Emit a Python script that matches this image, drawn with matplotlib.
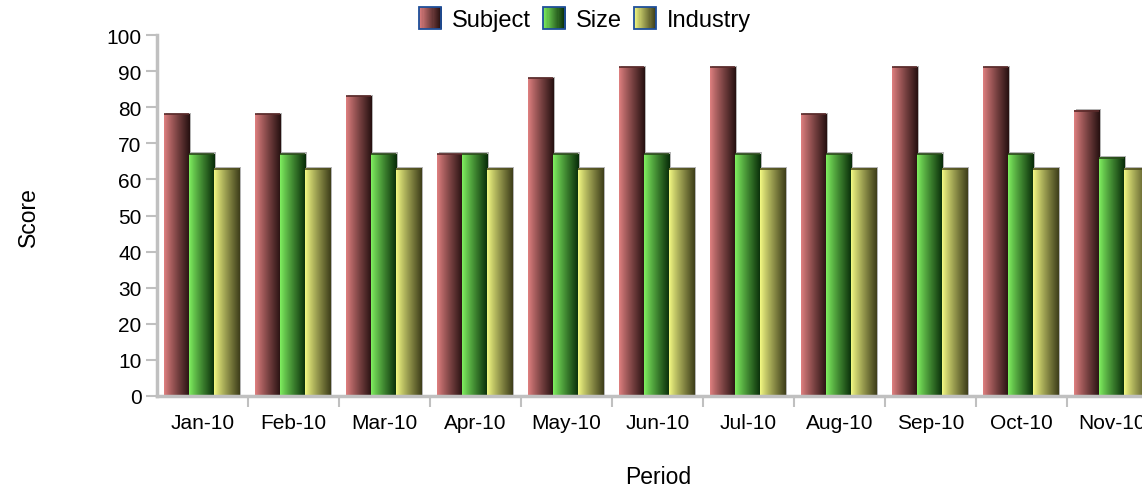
import numpy as np
import matplotlib
matplotlib.use('Agg')
import matplotlib.pyplot as plt
from matplotlib.patches import Rectangle
from matplotlib.legend_handler import HandlerBase
from matplotlib.colors import to_rgb

plt.rcParams['font.family'] = ['Liberation Sans', 'DejaVu Sans']
plt.rcParams['font.size'] = 15

periods = ['Jan-10', 'Feb-10', 'Mar-10', 'Apr-10', 'May-10', 'Jun-10',
           'Jul-10', 'Aug-10', 'Sep-10', 'Oct-10', 'Nov-10']
subject = [78, 78, 83, 67, 88, 91, 91, 78, 91, 91, 79]
size = [67, 67, 67, 67, 67, 67, 67, 67, 67, 67, 66]
industry = [63, 63, 63, 63, 63, 63, 63, 63, 63, 63, 63]
series_names = ['Subject', 'Size', 'Industry']

# light -> dark colours of each gradient
grads = [('#e08080', '#261010'), ('#80f060', '#082c08'), ('#f4fa84', '#3e3e1a')]
top_cols = ['#5a2a2a', '#2a4a1a', '#505020']


def grad_img(c1, c2, n=64):
    a = np.array(to_rgb(c1))
    b = np.array(to_rgb(c2))
    t = np.linspace(0, 1, n) ** 0.9
    return (a[None, :] * (1 - t[:, None]) + b[None, :] * t[:, None])[None, :, :]


class GradHandler(HandlerBase):
    def __init__(self, c1, c2):
        super().__init__()
        self.c1, self.c2 = c1, c2

    def create_artists(self, legend, orig_handle, xdescent, ydescent,
                       width, height, fontsize, trans):
        arts = []
        side = 16
        y0 = -ydescent + (height - side) / 2
        x0 = -xdescent + (width - side) / 2
        img = grad_img(self.c1, self.c2, 20)[0]
        n = len(img)
        for i in range(n):
            r = Rectangle((x0 + side * i / n, y0), side / n + 0.2, side,
                          facecolor=img[i], edgecolor='none', transform=trans)
            arts.append(r)
        arts.append(Rectangle((x0, y0), side, side, facecolor='none',
                              edgecolor='#1f4f9a', lw=1.3, transform=trans))
        return arts


fig = plt.figure(figsize=(11.42, 4.89), dpi=100)
ax = fig.add_axes([157 / 1142, 92 / 489, 1001 / 1142, 361 / 489])

bw = 0.275
off = 0.077
data = [subject, size, industry]
for s, vals in enumerate(data):
    c1, c2 = grads[s]
    img = grad_img(c1, c2)
    for i, v in enumerate(vals):
        x0 = i + off + s * bw
        # soft shadow behind each bar
        ax.add_patch(Rectangle((x0 + 0.018, 0), bw, v + 0.5, facecolor='#b4b4b4',
                               edgecolor='none', zorder=1))
        ax.imshow(img, extent=[x0, x0 + bw, 0, v], aspect='auto',
                  interpolation='bilinear', zorder=2)
        ax.plot([x0, x0 + bw], [v, v], color=top_cols[s], lw=1.2, zorder=3,
                solid_capstyle='butt')

ax.set_xlim(0, 11)
ax.set_ylim(0, 100)
ax.set_yticks(range(0, 101, 10))
ax.set_xticks(range(1, 12))
ax.set_xticks(np.arange(11) + 0.5, minor=True)
ax.set_xticklabels([])
ax.set_xticklabels(periods, minor=True)
ax.tick_params(axis='x', which='minor', length=0, pad=12)
ax.tick_params(axis='x', which='major', length=8, width=1.5, color='#c0c0c0')
ax.tick_params(axis='y', length=8, width=1.5, color='#c0c0c0', pad=3)

for sp in ['top', 'right']:
    ax.spines[sp].set_visible(False)
for sp in ['left', 'bottom']:
    ax.spines[sp].set_color('#c0c0c0')
    ax.spines[sp].set_linewidth(2.5)

fig.text(28 / 1142, 1 - 217 / 489, 'Score', rotation=90, ha='center', va='center',
         fontsize=16.5)
fig.text(658 / 1142, 1 - 478 / 489, 'Period', ha='center', va='center', fontsize=16.5)

handles = [Rectangle((0, 0), 1, 1) for _ in series_names]
fig.legend(handles, series_names, loc='center', bbox_to_anchor=(585 / 1142, 1 - 21 / 489),
           ncol=3, frameon=False, fontsize=17, handlelength=0.95, handletextpad=0.45,
           columnspacing=0.5, borderpad=0, borderaxespad=0,
           handler_map={h: GradHandler(*grads[i]) for i, h in enumerate(handles)})

fig.savefig('out.png', dpi=100)
